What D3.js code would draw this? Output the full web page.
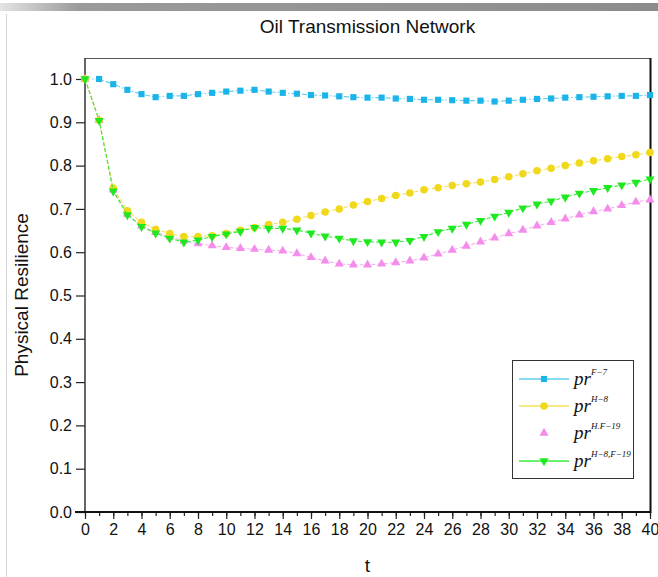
<!DOCTYPE html>
<html>
<head>
<meta charset="utf-8">
<script src="https://cdn.jsdelivr.net/npm/d3@7"></script>
<style>
  html, body { margin: 0; padding: 0; background: #fff; }
  svg { display: block; }
</style>
</head>
<body>
<svg id="chart" width="658" height="577"></svg>
<script>
// Time steps
const tValues = [0,1,2,3,4,5,6,7,8,9,10,11,12,13,14,15,16,17,18,19,20,
                 21,22,23,24,25,26,27,28,29,30,31,32,33,34,35,36,37,38,39,40];

// Physical resilience under each disruption scenario
const prF7 = [1.000,1.000,0.988,0.975,0.965,0.958,0.961,0.961,0.965,0.968,0.971,
              0.973,0.975,0.971,0.968,0.966,0.963,0.962,0.960,0.958,0.957,
              0.957,0.955,0.954,0.952,0.952,0.951,0.950,0.950,0.948,0.950,
              0.952,0.954,0.955,0.957,0.958,0.959,0.960,0.961,0.961,0.963];
const prH8 = [1.000,0.905,0.748,0.696,0.669,0.653,0.643,0.636,0.636,0.638,0.643,
              0.651,0.657,0.664,0.669,0.676,0.685,0.693,0.700,0.709,0.717,
              0.724,0.731,0.737,0.744,0.749,0.754,0.758,0.762,0.768,0.774,
              0.781,0.788,0.794,0.800,0.806,0.811,0.816,0.821,0.825,0.830];
const prHF19 = [1.000,0.905,0.744,0.688,0.661,0.646,0.636,0.626,0.620,0.615,0.611,
                0.609,0.607,0.605,0.603,0.597,0.588,0.580,0.573,0.571,0.571,
                0.573,0.576,0.580,0.587,0.596,0.605,0.614,0.624,0.633,0.643,
                0.651,0.661,0.669,0.677,0.686,0.694,0.700,0.708,0.716,0.721];
const prH8F19 = [1.000,0.904,0.741,0.686,0.659,0.644,0.632,0.623,0.628,0.636,0.642,
                 0.648,0.657,0.655,0.655,0.651,0.644,0.637,0.632,0.626,0.624,
                 0.623,0.623,0.627,0.636,0.647,0.655,0.664,0.673,0.683,0.692,
                 0.702,0.711,0.718,0.727,0.736,0.742,0.749,0.755,0.761,0.769];

// Axis ticks
const xMajorTicks = [0,2,4,6,8,10,12,14,16,18,20,22,24,26,28,30,32,34,36,38,40];
const yTicks = [0.0,0.1,0.2,0.3,0.4,0.5,0.6,0.7,0.8,0.9,1.0];

// Legend labels: superscripts after "pr"
const legendSup = ["F\u22127", "H\u22128", "H.F\u221219", "H\u22128,F\u221219"];

const series = [
  { name: "F7",    values: prF7,    marker: "square",  fill: "#1ab4e8", line: "#62cdf0", dash: "5,2,1.5,2", sup: legendSup[0], legendLine: true },
  { name: "HF19",  values: prHF19,  marker: "triUp",   fill: "#f48ceb", line: "#f6aef0", dash: "4,2",       sup: legendSup[2], legendLine: false },
  { name: "H8",    values: prH8,    marker: "circle",  fill: "#f0d81c", line: "#f3e05a", dash: "4,2",       sup: legendSup[1], legendLine: true },
  { name: "H8F19", values: prH8F19, marker: "triDown", fill: "#1ee81e", line: "#3cec3c", dash: "4,2",       sup: legendSup[3], legendLine: true }
];
const legendOrder = ["F7", "H8", "HF19", "H8F19"];

const svg = d3.select("#chart");
const W = 658, H = 577;
const plot = { left: 85, right: 650, top: 58, bottom: 512 };

// Window-edge decoration
const grad = svg.append("defs").append("linearGradient").attr("id", "topbar");
grad.append("stop").attr("offset", "0%").attr("stop-color", "#e4e4e4");
grad.append("stop").attr("offset", "12%").attr("stop-color", "#9a9a9a");
grad.append("stop").attr("offset", "100%").attr("stop-color", "#8c8c8c");
svg.append("rect").attr("x", 0).attr("y", 3).attr("width", W).attr("height", 8).attr("fill", "url(#topbar)");
svg.append("line").attr("x1", 6.5).attr("x2", 6.5).attr("y1", 14).attr("y2", H)
   .attr("stroke", "#d8d8d8").attr("stroke-width", 1);

const x = d3.scaleLinear().domain([0, 40]).range([plot.left, plot.right]);
const y = d3.scaleLinear().domain([0, 1.0485]).range([plot.bottom, plot.top]);

const font = "'Liberation Sans', Arial, sans-serif";

// Frame (top and right)
svg.append("line").attr("x1", plot.left).attr("x2", plot.right).attr("y1", plot.top + 0.5).attr("y2", plot.top + 0.5)
   .attr("stroke", "#555").attr("stroke-width", 1);
svg.append("line").attr("x1", plot.right + 0.5).attr("x2", plot.right + 0.5).attr("y1", plot.top).attr("y2", plot.bottom + 1)
   .attr("stroke", "#111").attr("stroke-width", 2);

// Y axis
const yAxis = d3.axisLeft(y).tickValues(yTicks).tickFormat(d3.format(".1f")).tickSize(9).tickPadding(4);
const gy = svg.append("g").attr("transform", `translate(${plot.left},0)`).call(yAxis);
gy.select(".domain").remove();
gy.selectAll(".tick line").attr("stroke", "#222").attr("stroke-width", 1.2);
gy.selectAll(".tick text").attr("font-family", font).attr("font-size", 16).attr("fill", "#111");
svg.append("line").attr("x1", plot.left).attr("x2", plot.left).attr("y1", plot.top).attr("y2", plot.bottom)
   .attr("stroke", "#333").attr("stroke-width", 1.5);

// X axis with minor ticks
const gxMinor = svg.append("g").attr("transform", `translate(0,${plot.bottom})`)
  .call(d3.axisBottom(x).ticks(40).tickSize(4).tickFormat(""));
gxMinor.select(".domain").remove();
gxMinor.selectAll(".tick line").attr("stroke", "#222").attr("stroke-width", 1.2);
const gx = svg.append("g").attr("transform", `translate(0,${plot.bottom})`)
  .call(d3.axisBottom(x).tickValues(xMajorTicks).tickFormat(d3.format("d")).tickSize(7).tickPadding(5));
gx.select(".domain").remove();
gx.selectAll(".tick line").attr("stroke", "#222").attr("stroke-width", 1.2);
gx.selectAll(".tick text").attr("font-family", font).attr("font-size", 16).attr("fill", "#111");
svg.append("line").attr("x1", plot.left - 10).attr("x2", plot.right + 1).attr("y1", plot.bottom).attr("y2", plot.bottom)
   .attr("stroke", "#111").attr("stroke-width", 2);

// Titles
svg.append("text").attr("x", (plot.left + plot.right) / 2).attr("y", 33).attr("text-anchor", "middle")
   .attr("font-family", font).attr("font-size", 19).attr("fill", "#111").text("Oil Transmission Network");
svg.append("text").attr("x", (plot.left + plot.right) / 2).attr("y", 572).attr("text-anchor", "middle")
   .attr("font-family", font).attr("font-size", 19).attr("fill", "#111").text("t");
svg.append("text").attr("transform", `translate(28,${(plot.top + plot.bottom) / 2 + 10}) rotate(-90)`)
   .attr("text-anchor", "middle").attr("font-family", font).attr("font-size", 19).attr("fill", "#111")
   .text("Physical Resilience");

// Marker shapes
const symbolFor = {
  square:  d3.symbol().type(d3.symbolSquare).size(38),
  circle:  d3.symbol().type(d3.symbolCircle).size(44),
  triUp:   d3.symbol().type(d3.symbolTriangle).size(36),
  triDown: d3.symbol().type(d3.symbolTriangle).size(36)
};
function markerTransform(m, px, py) {
  return m === "triDown" ? `translate(${px},${py}) rotate(180)` : `translate(${px},${py})`;
}

const line = d3.line().x((d, i) => x(tValues[i])).y(d => y(d));

series.forEach(s => {
  const g = svg.append("g");
  g.append("path").datum(s.values).attr("d", line).attr("fill", "none")
   .attr("stroke", s.line).attr("stroke-width", 1.1).attr("stroke-dasharray", s.dash);
  g.selectAll("path.mk").data(s.values).join("path").attr("class", "mk")
   .attr("d", symbolFor[s.marker]())
   .attr("transform", (d, i) => markerTransform(s.marker, x(tValues[i]), y(d)))
   .attr("fill", s.fill);
});

// Legend
const lg = svg.append("g").attr("transform", "translate(512,360)");
lg.append("rect").attr("x", 0.5).attr("y", 0.5).attr("width", 121).attr("height", 118)
  .attr("fill", "#fff").attr("stroke", "#333").attr("stroke-width", 1);
const rowY = [19, 46, 73, 101];
legendOrder.forEach((name, k) => {
  const s = series.find(d => d.name === name);
  const ry = rowY[k];
  if (s.legendLine) {
    lg.append("line").attr("x1", 7).attr("x2", 57).attr("y1", ry).attr("y2", ry)
      .attr("stroke", s.line).attr("stroke-width", 1.3);
  }
  lg.append("path").attr("d", symbolFor[s.marker]())
    .attr("transform", markerTransform(s.marker, 32, ry)).attr("fill", s.fill);
  const txt = lg.append("text").attr("x", 62).attr("y", ry + 6)
    .attr("font-family", "'Liberation Serif', 'Times New Roman', serif").attr("fill", "#111");
  txt.append("tspan").attr("font-size", 19).attr("font-style", "italic").text("pr");
  txt.append("tspan").attr("font-size", 9).attr("font-style", "italic").attr("dy", -10).text(s.sup);
});
</script>
</body>
</html>
